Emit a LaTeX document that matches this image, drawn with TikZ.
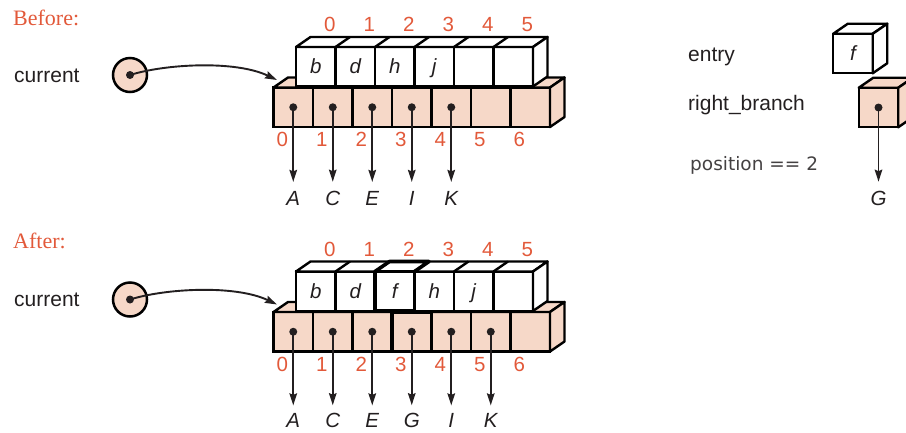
\documentclass[tikz,border=0pt]{standalone}
\usepackage{fontspec}
\usetikzlibrary{arrows.meta,calc}
\setmainfont{Liberation Sans}
\newfontfamily\serfont{Liberation Serif}
\newfontfamily\dvfont{DejaVu Sans}
\definecolor{ink}{HTML}{231F20}
\definecolor{rust}{HTML}{E2593A}
\definecolor{blush}{HTML}{F6D8C8}

\begin{document}
\begin{tikzpicture}[x=1pt,y=-1pt,>={Stealth[length=12pt,width=7.5pt,inset=1.5pt]},
 every node/.style={font=\fontsize{21}{24}\selectfont,text=ink},
 cell/.style={draw=black,line width=2.4pt,minimum width=39.5pt,minimum height=39.5pt,inner sep=0pt,outer sep=0pt,text height=14pt,text depth=0pt,font=\fontsize{20.5}{24}\selectfont\itshape},
 wcell/.style={cell,fill=white},
 pcell/.style={cell,fill=blush},
 face/.style={draw=black,line width=2.4pt,line join=round},
 hot/.style={draw=black,line width=3.6pt,line join=round},
 idx/.style={anchor=base,inner sep=0pt,text=rust,font=\fontsize{20.5}{24}\selectfont},
 lett/.style={anchor=base,inner sep=0pt,outer sep=0pt,font=\fontsize{20.5}{24}\selectfont\itshape},
 head/.style={anchor=base west,inner sep=0pt,text=rust,font=\serfont\fontsize{22}{26}\selectfont},
 lbl/.style={anchor=base west,inner sep=0pt},
 ptr/.style={->,draw=ink,line width=1.9pt},
 var/.style={circle,draw=black,line width=2.5pt,fill=blush,minimum size=34pt,inner sep=0pt}]
\useasboundingbox (0,0) rectangle (906,432);
\clip (0,0) rectangle (906,432);

% before
\node[head] (before) at (13,25) {Before:};
\node[lbl] (bcurlbl) at (14,82) {current};
\node[var] (bcur) at (130,75) {};
\coordinate (btip) at (277,80);
\foreach \i in {0,...,6} \node[pcell] (bp\i) at (293.25+39.5*\i,107.25) {};
\draw[face,fill=blush] (bp0.north west) -- ++(14.5,-10) -- ($(bp6.north east)+(14.5,-10)$) -- (bp6.north east) -- cycle;
\draw[face,fill=blush] (bp6.north east) -- ++(14.5,-10) -- ++(0,39.5) -- (bp6.south east) -- cycle;
\foreach \i/\t in {0/b,1/d,2/h,3/j,4/{},5/{}} \node[wcell] (bw\i) at (315.75+39.5*\i,66.75) {\t};
\draw[face,fill=white] (bw0.north west) -- ++(14.5,-10) -- ($(bw5.north east)+(14.5,-10)$) -- (bw5.north east) -- cycle;
\foreach \i in {1,...,5} \draw[face] (bw\i.north west) -- ++(14.5,-10);
\draw[face,fill=white] (bw5.north east) -- ++(14.5,-10) -- ++(0,39.5) -- (bw5.south east) -- cycle;
\foreach \i in {0,...,5} \node[idx] (bu\i) at (329.75+39.5*\i,31.7) {\i};
\foreach \i in {0,...,6} \node[idx] (bl\i) at (282.25+39.5*\i,146.5) {\i};
\foreach \i/\l in {0/A,1/C,2/E,3/I,4/K}{
  \node[lett] (bv\i) at (293.25+39.5*\i,205) {\l};
  \fill[ink] (bp\i) circle (4pt);
  \draw[ptr,shorten >=9pt] (bp\i.center) -- (bv\i.north);
}
\fill[ink] (bcur) circle (4pt);
\draw[ptr] (bcur.center) .. controls (165,64) and (235,60) .. (btip);

% entry and right_branch
\node[lbl] (entrylbl) at (688,61.7) {entry};
\node[lbl] (rblbl) at (688,110) {right\_branch};
\node[lbl,text=ink!85,font=\dvfont\fontsize{18.5}{22}\selectfont] (poslbl) at (690,170) {position == 2};
\node[wcell] (ent) at (853,53.5) {f};
\draw[face,fill=white] (ent.north west) -- ++(14.5,-10) -- ++(39.5,0) -- (ent.north east) -- cycle;
\draw[face,fill=white] (ent.north east) -- ++(14.5,-10) -- ++(0,39.5) -- (ent.south east) -- cycle;
\node[pcell] (rb) at (878.5,107.5) {};
\draw[face,fill=blush] (rb.north west) -- ++(14.5,-10) -- ++(39.5,0) -- (rb.north east) -- cycle;
\draw[face,fill=blush] (rb.north east) -- ++(14.5,-10) -- ++(0,39.5) -- (rb.south east) -- cycle;
\node[lett] (rbv) at (878.5,205) {G};
\fill[ink] (rb) circle (4pt);
\draw[ptr,shorten >=9pt] (rb.center) -- (rbv.north);

% after
\node[head] (after) at (13,248.3) {After:};
\node[lbl] (acurlbl) at (14,306.5) {current};
\node[var] (acur) at (130,299.5) {};
\coordinate (atip) at (277,304.5);
\foreach \i in {0,...,6} \node[pcell] (ap\i) at (293.25+39.5*\i,331.75) {};
\draw[face,fill=blush] (ap0.north west) -- ++(14.5,-10) -- ($(ap6.north east)+(14.5,-10)$) -- (ap6.north east) -- cycle;
\draw[face,fill=blush] (ap6.north east) -- ++(14.5,-10) -- ++(0,39.5) -- (ap6.south east) -- cycle;
\foreach \i/\t in {0/b,1/d,2/f,3/h,4/j,5/{}} \node[wcell] (aw\i) at (315.75+39.5*\i,291.25) {\t};
\draw[face,fill=white] (aw0.north west) -- ++(14.5,-10) -- ($(aw5.north east)+(14.5,-10)$) -- (aw5.north east) -- cycle;
\foreach \i in {1,...,5} \draw[face] (aw\i.north west) -- ++(14.5,-10);
\draw[face,fill=white] (aw5.north east) -- ++(14.5,-10) -- ++(0,39.5) -- (aw5.south east) -- cycle;
\draw[hot] (aw2.north west) rectangle (aw2.south east);
\draw[hot] (aw2.north west) -- ++(14.5,-10) -- ++(39.5,0) -- (aw2.north east);
\draw[hot] (ap3.north west) rectangle (ap3.south east);
\foreach \i in {0,...,5} \node[idx] (au\i) at (329.75+39.5*\i,256) {\i};
\foreach \i in {0,...,6} \node[idx] (al\i) at (282.25+39.5*\i,371) {\i};
\foreach \i/\l in {0/A,1/C,2/E,3/G,4/I,5/K}{
  \node[lett] (av\i) at (293.25+39.5*\i,427.5) {\l};
  \fill[ink] (ap\i) circle (4pt);
  \draw[ptr,shorten >=8pt] (ap\i.center) -- (av\i.north);
}
\fill[ink] (acur) circle (4pt);
\draw[ptr] (acur.center) .. controls (165,288.5) and (235,284.5) .. (atip);
\end{tikzpicture}
\end{document}
